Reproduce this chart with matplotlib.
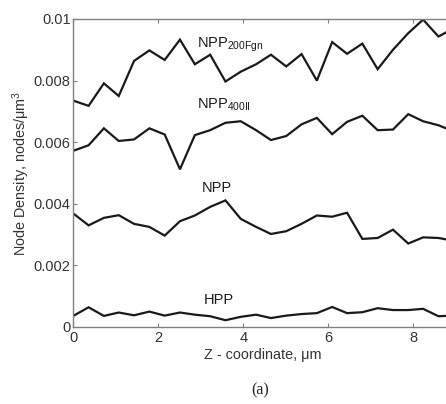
import matplotlib
matplotlib.use("Agg")
import matplotlib.pyplot as plt

plt.rcParams['font.family'] = ['Liberation Sans', 'DejaVu Sans']
plt.rcParams['mathtext.fontset'] = 'custom'
plt.rcParams['mathtext.rm'] = 'Liberation Sans'
plt.rcParams['mathtext.it'] = 'Liberation Sans:italic'

# Z coordinate of each slice (um)
z = [0.0, 0.36, 0.72, 1.07, 1.43, 1.79, 2.15, 2.51, 2.86, 3.22, 3.58, 3.94, 4.30,
     4.65, 5.01, 5.37, 5.73, 6.09, 6.44, 6.80, 7.16, 7.52, 7.88, 8.23, 8.59, 8.95]

# Node densities (nodes/um^3)
npp_200fgn = [0.00735, 0.00718, 0.00791, 0.00750, 0.00864, 0.00898, 0.00867, 0.00933,
              0.00853, 0.00884, 0.00797, 0.00829, 0.00853, 0.00884, 0.00846, 0.00886,
              0.00800, 0.00925, 0.00887, 0.00920, 0.00837, 0.00900, 0.00954, 0.00998,
              0.00943, 0.00970]
npp_400ii = [0.00572, 0.00590, 0.00645, 0.00604, 0.00609, 0.00645, 0.00625, 0.00512,
             0.00623, 0.00639, 0.00663, 0.00668, 0.00639, 0.00607, 0.00620, 0.00658,
             0.00679, 0.00626, 0.00666, 0.00686, 0.00639, 0.00641, 0.00691, 0.00668,
             0.00655, 0.00635]
npp = [0.003685, 0.00330, 0.003543, 0.00363, 0.003348, 0.00325, 0.002967, 0.003435,
       0.00362, 0.00390, 0.00411, 0.00351, 0.00325, 0.00302, 0.00311, 0.00335,
       0.00362, 0.00358, 0.00371, 0.00286, 0.00289, 0.00316, 0.00271, 0.00291,
       0.00289, 0.00280]
hpp = [0.00036, 0.00064, 0.00036, 0.00047, 0.00038, 0.00050, 0.00037, 0.00047,
       0.00040, 0.00035, 0.00022, 0.00033, 0.00040, 0.00029, 0.00037, 0.00042,
       0.00045, 0.00065, 0.00045, 0.00048, 0.00061, 0.00055, 0.00055, 0.00059,
       0.00035, 0.00037]

series = [npp_200fgn, npp_400ii, npp, hpp]
labels = [r'NPP$_{\mathregular{200Fgn}}$', r'NPP$_{\mathregular{400II}}$', 'NPP', 'HPP']
label_pos = [(2.91, 0.00916), (2.91, 0.00721), (3.02, 0.00451), (3.08, 0.00088)]

xticks = [0, 2, 4, 6, 8]
yticks = [0, 0.002, 0.004, 0.006, 0.008, 0.01]
yticklabels = ['0', '0.002', '0.004', '0.006', '0.008', '0.01']

fig = plt.figure(figsize=(4.46, 4.04), dpi=100)
ax = fig.add_axes([0.1643, 0.1906, 1.0126 - 0.1643, 0.953 - 0.1906])

for vals in series:
    ax.plot(z, vals, color='#1a1a1a', lw=1.6, solid_joinstyle='miter')

for text, (tx, ty) in zip(labels, label_pos):
    ax.text(tx, ty, text, fontsize=10.5, ha='left', va='center', color='#1a1a1a')

ax.set_xlim(0, 8.9)
ax.set_ylim(0, 0.01)
ax.set_xticks(xticks)
ax.set_xticklabels([str(t) for t in xticks])
ax.set_yticks(yticks)
ax.set_yticklabels(yticklabels)

for s in ax.spines.values():
    s.set_color('#808080')
    s.set_linewidth(1.0)
ax.tick_params(direction='in', length=3, width=0.8, color='#808080',
               labelsize=10.5, labelcolor='#333333', top=True, right=True)
ax.tick_params(axis='y', pad=2)
ax.tick_params(axis='x', pad=3)

ax.set_xlabel('Z - coordinate, μm', fontsize=10.4, color='#333333', labelpad=2)
ax.set_ylabel('Node Density, nodes/μm$^3$', fontsize=10.4, color='#333333', labelpad=1.5)

fig.text(260 / 446, 1 - 390 / 404, '(a)', fontsize=11.5, ha='center', va='center',
         family=['Liberation Serif', 'DejaVu Serif'], color='#222222')

fig.savefig('out.png', dpi=100)
